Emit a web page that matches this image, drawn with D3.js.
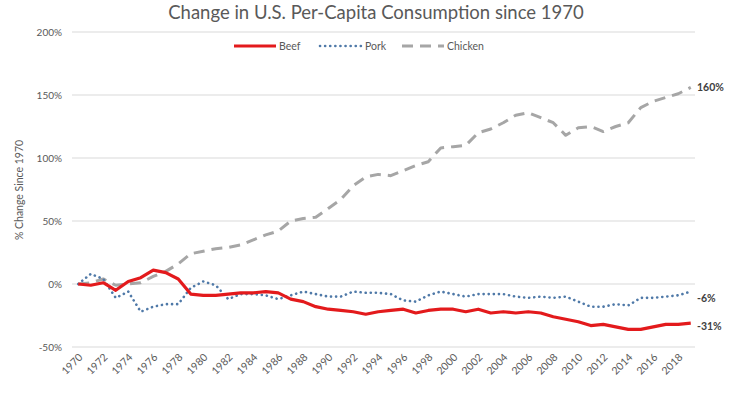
<!DOCTYPE html>
<html>
<head>
<meta charset="utf-8">
<script src="https://cdn.jsdelivr.net/npm/d3@7"></script>
<style>
  body { margin: 0; background: #fff; }
  text { font-family: Lato, "Open Sans", sans-serif; }
</style>
</head>
<body>
<div id="chart"></div>
<script>
// Chart data (% change since 1970)
var years = d3.range(1970, 2020);
var beef = [0, -1, 1, -5, 2, 5, 11, 9, 4, -8,
  -9, -9, -8, -7, -7, -6, -7, -12, -14, -18,
  -20, -21, -22, -24, -22, -21, -20, -23, -21, -20,
  -20, -22, -20, -23, -22, -23, -22, -23, -26, -28,
  -30, -33, -32, -34, -36, -36, -34, -32, -32, -31];
var pork = [0, 8, 4, -11, -6, -22, -18, -16, -16, -3,
  2, -1, -12, -8, -8, -9, -12, -9, -6, -8,
  -10, -10, -6, -7, -7, -8, -13, -14, -9, -6,
  -8, -10, -8, -8, -8, -10, -11, -10, -11, -10,
  -14, -18, -18, -16, -17, -11, -11, -10, -9, -6];
var chicken = [0, 1, 4, -1, 0, 1, 6, 10, 16, 24,
  26, 28, 29, 31, 35, 39, 42, 50, 52, 53,
  60, 67, 78, 85, 87, 86, 90, 94, 97, 108,
  109, 110, 120, 123, 128, 134, 136, 132, 128, 118,
  124, 125, 121, 125, 128, 140, 145, 148, 151, 156];
var yTicks = [-50, 0, 50, 100, 150, 200];
var xTickYears = years.filter(d => d % 2 === 0);
var endLabels = ["160%", "-6%", "-31%"];

var svgWidth = 749;
var svgHeight = 396;

var svg = d3.select("#chart")
  .append("svg")
  .attr("width", svgWidth)
  .attr("height", svgHeight);

// scales
var xScale = d3.scalePoint()
  .domain(years)
  .range([72, 697])
  .padding(0.5);

var yScale = d3.scaleLinear()
  .domain([-50, 200])
  .range([347, 32]);

// grid lines
svg.append("g")
  .selectAll("line")
  .data(yTicks)
  .enter()
  .append("line")
  .attr("x1", 72)
  .attr("x2", 695)
  .attr("y1", d => yScale(d))
  .attr("y2", d => yScale(d))
  .attr("stroke", "#d9d9d9")
  .attr("stroke-width", 1);

// y tick labels
svg.append("g")
  .selectAll("text")
  .data(yTicks)
  .enter()
  .append("text")
  .attr("x", 62)
  .attr("y", d => yScale(d) + 3.5)
  .attr("text-anchor", "end")
  .attr("font-size", "10px")
  .attr("fill", "#595959")
  .text(d => d + "%");

// x tick labels, rotated
svg.append("g")
  .selectAll("text")
  .data(xTickYears)
  .enter()
  .append("text")
  .attr("transform", d => `translate(${xScale(d) + 5}, ${358}) rotate(-45)`)
  .attr("text-anchor", "end")
  .attr("font-size", "10.5px")
  .attr("fill", "#595959")
  .text(d => d);

// y axis title
svg.append("text")
  .attr("transform", "translate(23, 190) rotate(-90)")
  .attr("text-anchor", "middle")
  .attr("font-size", "10.5px")
  .attr("fill", "#595959")
  .text("% Change Since 1970");

// chart title
svg.append("text")
  .attr("x", 376)
  .attr("y", 19)
  .attr("text-anchor", "middle")
  .attr("font-size", "18.5px")
  .attr("fill", "#595959")
  .text("Change in U.S. Per-Capita Consumption since 1970");

var drawLine = d3.line()
  .x((d, i) => xScale(years[i]))
  .y(d => yScale(d));

var seriesList = [
  { name: "Beef", values: beef, color: "#e31a1c", width: 3.2, dash: null, cap: "butt" },
  { name: "Pork", values: pork, color: "#4f79a8", width: 2.6, dash: "0.1 5", cap: "round" },
  { name: "Chicken", values: chicken, color: "#a6a6a6", width: 3, dash: "11 7", cap: "butt" }
];

// draw chicken first, then pork, then beef on top
[2, 1, 0].forEach(function(k) {
  var s = seriesList[k];
  svg.append("path")
    .attr("d", drawLine(s.values))
    .attr("fill", "none")
    .attr("stroke", s.color)
    .attr("stroke-width", s.width)
    .attr("stroke-linejoin", "round")
    .attr("stroke-linecap", s.cap)
    .attr("stroke-dasharray", s.dash);
});

// end-of-line labels
var lastIdx = years.length - 1;
var endValues = [chicken[lastIdx], pork[lastIdx], beef[lastIdx]];
var endOffsets = [0, 6, 3];
svg.append("g")
  .selectAll("text")
  .data(endLabels)
  .enter()
  .append("text")
  .attr("x", 697)
  .attr("y", (d, i) => yScale(endValues[i]) + 4 + endOffsets[i])
  .attr("font-size", "10.5px")
  .attr("font-weight", "bold")
  .attr("fill", "#404040")
  .text(d => d);

// legend
var legendX = [234, 320, 402];
var legend = svg.append("g");
seriesList.forEach(function(s, i) {
  legend.append("line")
    .attr("x1", legendX[i])
    .attr("x2", legendX[i] + 42)
    .attr("y1", 46)
    .attr("y2", 46)
    .attr("stroke", s.color)
    .attr("stroke-width", s.width)
    .attr("stroke-linecap", s.cap)
    .attr("stroke-dasharray", s.dash);
  legend.append("text")
    .attr("x", legendX[i] + 45)
    .attr("y", 49.5)
    .attr("font-size", "10.5px")
    .attr("fill", "#595959")
    .text(s.name);
});
</script>
</body>
</html>
